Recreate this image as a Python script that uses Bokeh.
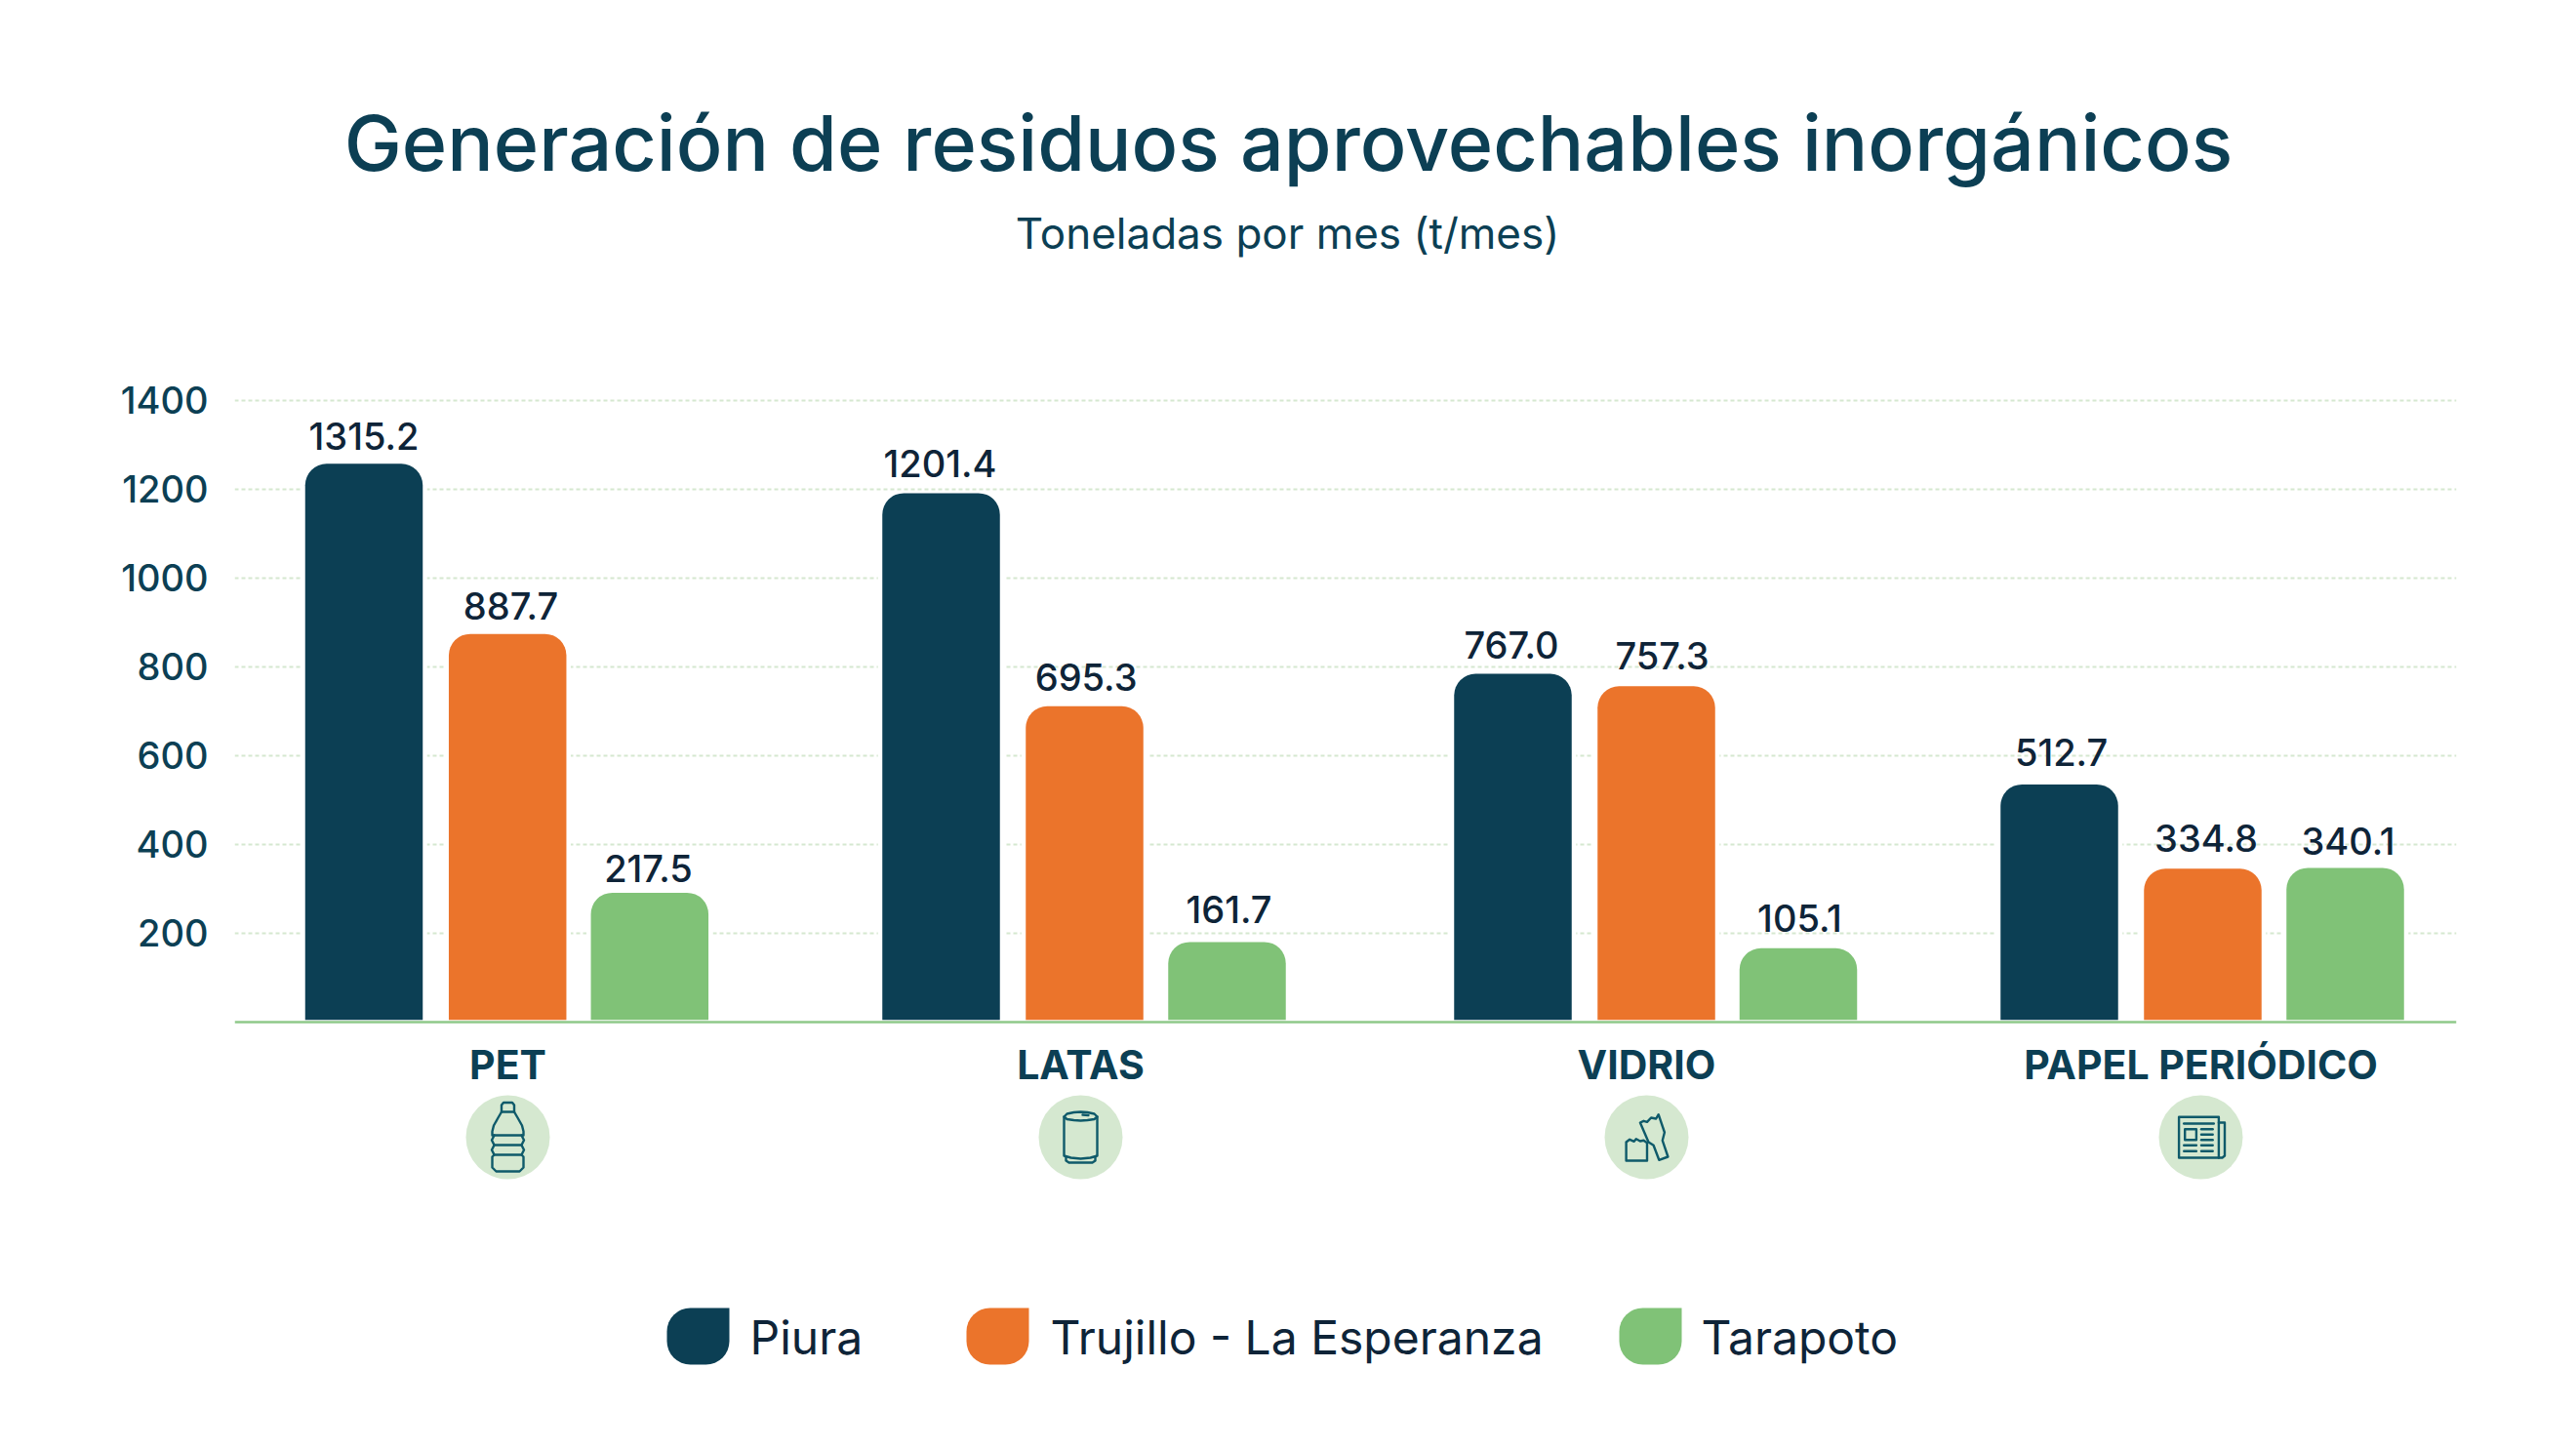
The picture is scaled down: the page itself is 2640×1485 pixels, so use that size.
from bokeh.plotting import figure
from bokeh.models import Range1d, FixedTicker
from bokeh.core.properties import value
from bokeh.embed import file_html
from bokeh.resources import INLINE

# ---------- data ----------
categories = ["PET", "LATAS", "VIDRIO", "PAPEL PERIÓDICO"]
series_names = ["Piura", "Trujillo - La Esperanza", "Tarapoto"]
# bar heights as drawn against the axis (the printed labels differ in the source)
piura_bars = [1257, 1191, 784, 535]
trujillo_bars = [874, 711, 756, 345]
tarapoto_bars = [291, 180, 166, 347]
# values printed above the bars
piura_labels = ["1315.2", "1201.4", "767.0", "512.7"]
trujillo_labels = ["887.7", "695.3", "757.3", "334.8"]
tarapoto_labels = ["217.5", "161.7", "105.1", "340.1"]
y_ticks = [200, 400, 600, 800, 1000, 1200, 1400]

# ---------- layout ----------
NAVY, ORANGE, GREEN = "#0c3f54", "#eb742b", "#80c277"
INK = "#0e2438"
PALE = "#d5e8d0"
ICON = "#0f5a6a"
FONT = "Inter"
FONT_M = "Inter Medium"
W, H = 2640, 1485
BORDER_B = 78
BASE_PX, PX_PER_UNIT = 1046.8, 0.455
BL = 0.36  # baseline correction of the svg text, in font sizes


def Y(px):
    return (BASE_PX - px) / PX_PER_UNIT


group_tick_x = [520, 1107, 1687, 2255]
bar_x = [[372.5, 964, 1550, 2110], [519.7, 1111, 1697, 2257], [665.3, 1257, 1842.5, 2403]]
bar_w = 120.5
label_dx = [[0, -1, -1.5, 2], [3.3, 1.6, 6, 3.5], [-1.3, 2, 1.5, 3]]
label_gap = [[15, 17, 16, 19], [15, 16, 18, 18], [11, 20, 17, 14]]

p = figure(width=W, height=H, output_backend="svg", toolbar_location=None,
           x_range=Range1d(240, 2517), y_range=Range1d(Y(H - BORDER_B), Y(0)),
           min_border_left=240, min_border_right=123, min_border_top=0, min_border_bottom=BORDER_B,
           background_fill_color="white", border_fill_color="white", outline_line_color=None)

# axes
p.yaxis.ticker = FixedTicker(ticks=y_ticks)
p.yaxis.axis_line_color = None
p.yaxis.major_tick_line_color = None
p.yaxis.minor_tick_line_color = None
p.yaxis.major_tick_out = 0
p.yaxis.major_label_standoff = 27
p.yaxis.major_label_text_font = FONT_M
p.yaxis.major_label_text_font_size = "38px"
p.yaxis.major_label_text_color = NAVY

p.xaxis.fixed_location = 0
p.xaxis.ticker = FixedTicker(ticks=group_tick_x)
p.xaxis.major_label_overrides = dict(zip(group_tick_x, categories))
p.xaxis.axis_line_color = "#8fc98a"
p.xaxis.axis_line_width = 2.5
p.xaxis.major_tick_line_color = None
p.xaxis.minor_tick_line_color = None
p.xaxis.major_tick_out = 0
p.xaxis.major_label_standoff = 19
p.xaxis.major_label_text_font = FONT
p.xaxis.major_label_text_font_style = "bold"
p.xaxis.major_label_text_font_size = "41px"
p.xaxis.major_label_text_color = NAVY

p.xgrid.visible = False
p.ygrid.ticker = FixedTicker(ticks=y_ticks)
p.ygrid.grid_line_color = PALE
p.ygrid.grid_line_width = 2
p.ygrid.grid_line_dash = "4 3"

# bars and their labels
bar_base = 2 / PX_PER_UNIT
series = [(piura_bars, piura_labels, NAVY), (trujillo_bars, trujillo_labels, ORANGE), (tarapoto_bars, tarapoto_labels, GREEN)]
for i, (vals, labs, col) in enumerate(series):
    p.vbar(x=bar_x[i], top=vals, bottom=bar_base, width=bar_w + 9, fill_color="white", line_color=None,
           border_radius=(22, 22, 0, 0))
for i, (vals, labs, col) in enumerate(series):
    p.vbar(x=bar_x[i], top=vals, bottom=bar_base, width=bar_w, fill_color=col, line_color=None,
           border_radius=(22, 22, 0, 0))
    p.text(x=[a + b for a, b in zip(bar_x[i], label_dx[i])],
           y=[v + g / PX_PER_UNIT for v, g in zip(vals, label_gap[i])], text=labs,
           text_font=value(FONT_M), text_font_size="38px", text_color=INK, y_offset=-BL * 38,
           text_align="center", text_baseline="alphabetic")

# title & subtitle
p.text(x=[1320], y=[Y(174)], text=["Generación de residuos aprovechables inorgánicos"],
       text_font=value(FONT_M), text_font_size="79px", text_color=NAVY, y_offset=-BL * 79,
       text_align="center", text_baseline="alphabetic")
p.text(x=[1319], y=[Y(254.7)], text=["Toneladas por mes (t/mes)"],
       text_font=value(FONT), text_font_size="44px", text_color=NAVY, y_offset=-BL * 44,
       text_align="center", text_baseline="alphabetic")

# category icons
ICON_CY = 1165
p.scatter(x=group_tick_x, y=[Y(ICON_CY)] * 4, size=86, marker="circle", fill_color=PALE, line_color=None)

bottle = [
    [(-6.5, -26), (-6.5, -33), (-4.5, -35.5), (4.5, -35.5), (6.5, -33), (6.5, -26), (-6.5, -26)],
    [(-6.5, -26), (-10, -20), (-14.5, -12), (-16, -6), (-16, -2), (-14, -2), (-16.5, 3), (-14, 8), (-16.5, 13), (-14, 18),
     (-16, 20), (-16, 31), (-12, 35), (12, 35), (16, 31), (16, 20), (14, 18), (16.5, 13), (14, 8), (16.5, 3), (14, -2),
     (16, -2), (16, -6), (14.5, -12), (10, -20), (6.5, -26)],
    [(-14, -2), (14, -2)], [(-14, 8), (14, 8)], [(-14, 18), (14, 18)],
]
can = [
    [(-17, -21), (-14, -24), (-7, -25.5), (0, -26), (7, -25.5), (14, -24), (17, -21), (14, -18.5), (7, -17.5), (0, -17),
     (-7, -17.5), (-14, -18.5), (-17, -21)],
    [(-17, -21), (-17, 19), (-10, 21), (0, 22), (10, 21), (17, 19), (17, -21)],
    [(-15, 20.5), (-15, 24), (-12, 26), (12, 26), (15, 24), (15, 20.5)],
    [(2, -23), (8, -22.5)],
]
glass = [
    [(-6.6, -15), (-3, -16.7), (0.5, -15.7), (4.6, -20), (9.7, -19), (12.2, -23.3), (18.4, -5), (16.3, 3.3), (21.9, 20),
     (12.8, 23.3), (7.1, 8.3), (2, 5), (-6.6, -15)],
    [(-20.9, 5), (-17.3, 2.3), (-12.8, 4.3), (-10.7, 1.7), (-6.6, 4), (-3, 3.3), (0.5, 5.7), (0.5, 24), (-20.9, 24), (-20.9, 5)],
]
paper = [
    [(-22.4, -20.7), (18.4, -20.7), (18.4, 21), (-22.4, 21), (-22.4, -20.7)],
    [(18.4, -15), (24.5, -15), (24.5, 19), (22, 21), (18.4, 21)],
    [(-16.3, -8.3), (-4.6, -8.3), (-4.6, 2.7), (-16.3, 2.7), (-16.3, -8.3)],
    [(-17.3, -14), (13.3, -14)],
    [(0.5, -8.3), (12.2, -8.3)], [(0.5, -2.7), (12.2, -2.7)], [(0.5, 2.7), (12.2, 2.7)],
    [(-17.3, 8.3), (-4.6, 8.3)], [(0.5, 8.3), (12.2, 8.3)],
    [(-17.3, 14.3), (-4.6, 14.3)], [(0.5, 14.3), (12.2, 14.3)],
]
for cx, shape in zip(group_tick_x, [bottle, can, glass, paper]):
    p.multi_line(xs=[[cx + a for a, b in seg] for seg in shape],
                 ys=[[Y(ICON_CY + b) for a, b in seg] for seg in shape],
                 line_color=ICON, line_width=2.4, line_join="round", line_cap="round")

# legend
swatch_left = [683, 990, 1659]
text_left = [768, 1076, 1743]
colors = [NAVY, ORANGE, GREEN]
p.quad(left=swatch_left, right=[a + 64 for a in swatch_left], top=[Y(1340)] * 3, bottom=[Y(1398)] * 3,
       fill_color=colors, line_color=None, border_radius=(24, 0, 24, 24))
p.text(x=text_left, y=[Y(1387)] * 3, text=series_names, text_font=value(FONT), text_font_size="48px",
       text_color=INK, y_offset=-BL * 48, text_align="left", text_baseline="alphabetic")

open("out.html", "w").write(file_html(p, INLINE))
